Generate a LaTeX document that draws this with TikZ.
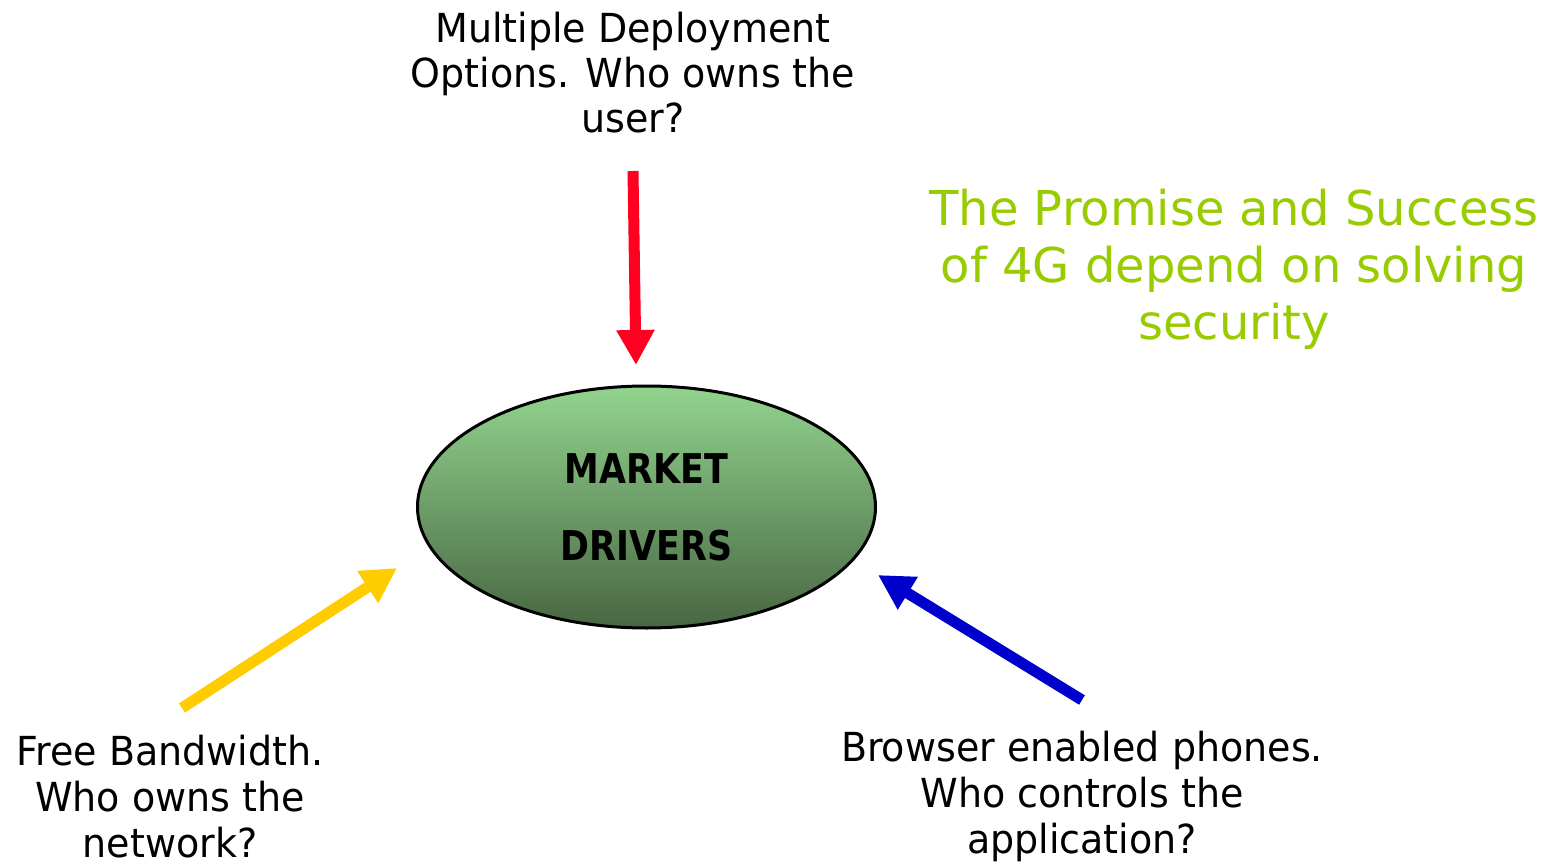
\documentclass[tikz,border=0pt]{standalone}
\usepackage{fontspec}
\setmainfont{DejaVu Sans}
\newfontfamily\lblfont{DejaVu Sans}[FakeStretch=0.95]
\newfontfamily\mdfont{DejaVu Sans}[FakeStretch=0.85]
\usetikzlibrary{arrows.meta,shapes.geometric}
\definecolor{redarrow}{RGB}{255,0,32}
\definecolor{yellowarrow}{RGB}{255,204,0}
\definecolor{bluearrow}{RGB}{0,0,204}
\definecolor{titlegreen}{RGB}{153,204,0}
\definecolor{mdtop}{RGB}{146,212,142}
\definecolor{mdbot}{RGB}{72,102,66}
\tikzset{
  fatarrow/.style={line width=11pt, -{Triangle[length=35pt,width=36pt]}},
  question/.style={align=center, inner sep=0pt, anchor=base, font=\lblfont\fontsize{40}{46}\selectfont},
  titletext/.style={align=center, inner sep=0pt, anchor=base, text=titlegreen, font=\fontsize{48}{57}\selectfont},
}
\begin{document}
\begin{tikzpicture}[x=1pt,y=-1pt]
\useasboundingbox (0,0) rectangle (1561,864);
\fill[white] (0,0) rectangle (1561,864);
\node[ellipse, draw=black, line width=3pt, minimum width=458pt, minimum height=242pt,
      top color=mdtop, bottom color=mdbot, inner sep=0pt, align=center,
      font=\mdfont\bfseries\fontsize{41}{77}\selectfont] (md) at (646.5,507) {MARKET\\DRIVERS};
\node[question, font=\lblfont\fontsize{40}{45}\selectfont] (top) at (633,133) {Multiple Deployment\\Options. Who owns the\\user?};
\node[question] (bl) at (170,857) {Free Bandwidth.\\Who owns the\\network?};
\node[question] (br) at (1082,853) {Browser enabled phones.\\Who controls the\\application?};
\node[titletext] (title) at (1234,339) {The Promise and Success\\of 4G depend on solving\\security};
\coordinate (rtail) at (633,171);
\coordinate (rtip) at (636,365);
\coordinate (ytail) at (182,708);
\coordinate (ytip) at (397,568);
\coordinate (btail) at (1082,700);
\coordinate (btip) at (878,575);
\draw[fatarrow, redarrow] (rtail) -- (rtip);
\draw[fatarrow, yellowarrow] (ytail) -- (ytip);
\draw[fatarrow, bluearrow] (btail) -- (btip);
\end{tikzpicture}
\end{document}
